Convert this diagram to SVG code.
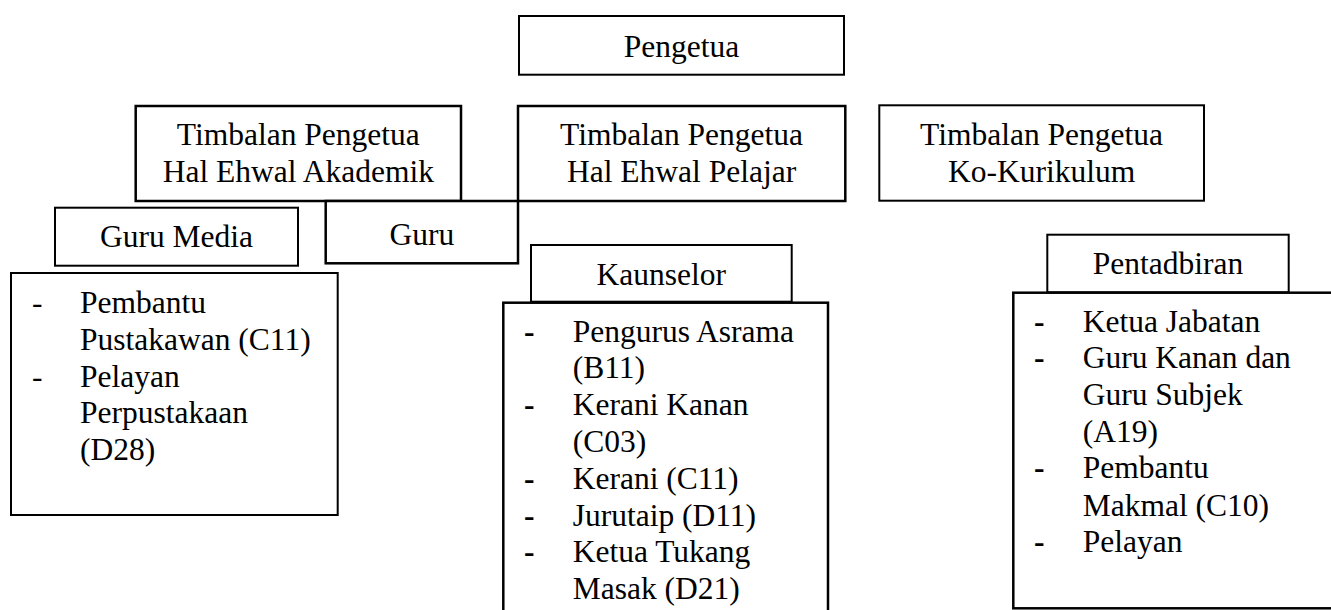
<svg xmlns="http://www.w3.org/2000/svg" width="1331" height="610" viewBox="0 0 1331 610">
<style>
rect{fill:#fff;stroke:#000;stroke-width:2}
rect.b{stroke-width:2.5}
text{font-family:"Liberation Serif","Times New Roman",serif;font-size:31.5px;fill:#000}
.c{text-anchor:middle}
.d{font-weight:bold}
</style>
<g id="connectors"></g>
<g id="pengetua">
<rect x="519" y="16" width="325" height="58.7"/>
<text class="c" x="681.5" y="57.3">Pengetua</text>
</g>
<g id="tp-akademik">
<rect class="b" x="135.7" y="106" width="325.3" height="95"/>
<text class="c" x="298.3" y="145">Timbalan Pengetua</text>
<text class="c" x="298.3" y="181.7">Hal Ehwal Akademik</text>
</g>
<g id="tp-pelajar">
<rect class="b" x="518" y="106" width="327.3" height="95"/>
<text class="c" x="681.6" y="145">Timbalan Pengetua</text>
<text class="c" x="681.6" y="181.7">Hal Ehwal Pelajar</text>
</g>
<g id="tp-kokurikulum">
<rect x="879.3" y="105.3" width="324.7" height="95.4"/>
<text class="c" x="1041.6" y="145">Timbalan Pengetua</text>
<text class="c" x="1041.6" y="181.7">Ko-Kurikulum</text>
</g>
<g id="guru-media">
<rect x="55" y="207.7" width="243" height="58"/>
<text class="c" x="176.5" y="247.3">Guru Media</text>
</g>
<g id="guru">
<rect class="b" x="325.7" y="201" width="192.3" height="62.3"/>
<text class="c" x="421.8" y="245">Guru</text>
</g>
<g id="guru-media-list">
<rect x="11" y="273" width="326.7" height="242"/>
<text x="32" y="313.3">-</text>
<text x="80" y="313.3">Pembantu</text>
<text x="80" y="350">Pustakawan (C11)</text>
<text x="32" y="386.7">-</text>
<text x="80" y="386.7">Pelayan</text>
<text x="80" y="423.3">Perpustakaan</text>
<text x="80" y="460">(D28)</text>
</g>
<g id="kaunselor">
<rect x="531" y="245" width="260.7" height="56.7"/>
<text class="c" x="661.3" y="285">Kaunselor</text>
</g>
<g id="kaunselor-list">
<rect class="b" x="503.3" y="302.7" width="324.7" height="320"/>
<text class="d" x="524" y="341.7">-</text>
<text x="572.7" y="341.7">Pengurus Asrama</text>
<text x="572.7" y="378.3">(B11)</text>
<text class="d" x="524" y="415">-</text>
<text x="572.7" y="415">Kerani Kanan</text>
<text x="572.7" y="451.7">(C03)</text>
<text class="d" x="524" y="489">-</text>
<text x="572.7" y="489">Kerani (C11)</text>
<text class="d" x="524" y="525.7">-</text>
<text x="572.7" y="525.7">Jurutaip (D11)</text>
<text class="d" x="524" y="562.3">-</text>
<text x="572.7" y="562.3">Ketua Tukang</text>
<text x="572.7" y="599">Masak (D21)</text>
</g>
<g id="pentadbiran">
<rect x="1047.3" y="234.7" width="241.4" height="57.6"/>
<text class="c" x="1168" y="274.3">Pentadbiran</text>
</g>
<g id="pentadbiran-list">
<rect class="b" x="1013.3" y="292.7" width="330" height="315.6"/>
<text class="d" x="1034" y="331.7">-</text>
<text x="1082.7" y="331.7">Ketua Jabatan</text>
<text class="d" x="1034" y="368.3">-</text>
<text x="1082.7" y="368.3">Guru Kanan dan</text>
<text x="1082.7" y="405">Guru Subjek</text>
<text x="1082.7" y="441.7">(A19)</text>
<text class="d" x="1034" y="478.3">-</text>
<text x="1082.7" y="478.3">Pembantu</text>
<text x="1082.7" y="515.7">Makmal (C10)</text>
<text class="d" x="1034" y="552.3">-</text>
<text x="1082.7" y="552.3">Pelayan</text>
</g>
</svg>
